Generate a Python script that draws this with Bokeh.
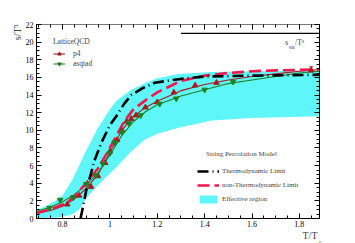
import math
from bokeh.plotting import figure
from bokeh.models import (Range1d, SingleIntervalTicker, LinearAxis, Label, Legend, LegendItem,
                          ColumnDataSource, Whisker, TeeHead, CustomJSTickFormatter, Title)
from bokeh.embed import file_html
from bokeh.resources import INLINE

# ---------------- data ----------------
band_x = [0.69, 0.73, 0.775, 0.80, 0.84, 0.87, 0.90, 0.95, 1.00, 1.03, 1.09, 1.145, 1.20, 1.29, 1.43, 1.60, 1.885]
band_upper = [1.0, 1.4, 2.1, 2.6, 4.3, 6.0, 7.7, 10.3, 12.4, 13.4, 14.6, 15.3, 15.9, 16.4, 16.6, 16.7, 16.8]
band_lower = [0.05, 0.08, 0.12, 0.2, 0.45, 1.0, 2.3, 3.8, 5.1, 5.9, 7.6, 8.9, 9.6, 10.3, 11.1, 11.4, 11.6]

thermo_x = [0.876, 0.89, 0.90, 0.92, 0.935, 0.964, 1.0, 1.027, 1.06, 1.09, 1.14, 1.19, 1.29, 1.40, 1.60, 1.885]
thermo_y = [0.0, 1.8, 3.2, 5.1, 6.6, 8.6, 10.6, 11.6, 13.0, 14.0, 14.8, 15.4, 15.8, 16.1, 16.2, 16.3]

nonthermo_x = [0.69, 0.73, 0.775, 0.82, 0.86, 0.90, 0.95, 0.985, 1.02, 1.06, 1.10, 1.15, 1.20, 1.30, 1.40, 1.50, 1.60, 1.70, 1.885]
nonthermo_y = [0.6, 0.9, 1.3, 1.8, 2.8, 4.0, 5.7, 7.3, 9.0, 11.0, 12.4, 13.4, 14.3, 15.6, 16.2, 16.5, 16.7, 16.8, 16.9]

p4fit_x = [0.69, 0.75, 0.80, 0.85, 0.90, 0.95, 1.00, 1.05, 1.10, 1.15, 1.20, 1.30, 1.40, 1.50, 1.60, 1.70, 1.80, 1.885]
p4fit_y = [0.6, 0.9, 1.4, 2.2, 3.4, 5.0, 7.5, 10.0, 11.6, 12.6, 13.3, 14.5, 15.2, 15.7, 16.1, 16.4, 16.7, 16.9]

asqfit_x = [0.69, 0.75, 0.80, 0.85, 0.90, 0.95, 1.00, 1.05, 1.10, 1.15, 1.20, 1.30, 1.40, 1.50, 1.60, 1.70, 1.80, 1.885]
asqfit_y = [0.8, 1.3, 1.9, 2.7, 3.8, 5.2, 7.2, 9.4, 11.0, 12.1, 12.9, 13.9, 14.6, 15.3, 15.7, 16.1, 16.5, 16.7]

p4_x = [0.82, 0.87, 0.92, 0.95, 0.98, 1.00, 1.03, 1.05, 1.07, 1.09, 1.11, 1.15, 1.20, 1.27, 1.36, 1.45, 1.85]
p4_y = [1.6, 2.6, 3.6, 4.8, 6.3, 7.6, 8.9, 10.0, 11.0, 11.3, 11.7, 12.6, 13.2, 14.3, 15.1, 15.4, 16.8]
p4_err = [0.3, 0.3, 0.4, 0.5, 0.5, 0.5, 0.5, 0.5, 0.5, 0.5, 0.5, 0.5, 0.5, 0.4, 0.4, 0.4, 0.4]

asq_x = [0.745, 0.79, 0.845, 0.90, 0.94, 0.97, 1.00, 1.02, 1.05, 1.08, 1.13, 1.21, 1.28, 1.40, 1.52]
asq_y = [1.2, 2.1, 2.4, 3.9, 4.9, 6.2, 7.4, 8.6, 9.8, 10.8, 11.7, 13.0, 13.6, 14.6, 15.5]
asq_err = [0.2, 0.2, 0.2, 0.25, 0.25, 0.3, 0.3, 0.3, 0.3, 0.3, 0.3, 0.3, 0.3, 0.3, 0.3]

sb_x = [1.30, 1.90]
sb_y = [21.0, 21.0]

# ---------------- styles ----------------
SERIF = "Liberation Serif"
CYAN = "#5ef6f8"
RED = "#f5174b"
BROWN = "#a81c1c"
GREEN = "#1f7f1f"

p = figure(width=355, height=243, output_backend="svg", toolbar_location=None, title=None,
           x_range=Range1d(0.69, 1.885), y_range=Range1d(0, 22),
           min_border_left=36, min_border_right=36, min_border_top=24, min_border_bottom=25)
p.background_fill_color = "white"
p.border_fill_color = "white"
p.outline_line_color = "black"
p.grid.visible = False

xt = SingleIntervalTicker(interval=0.2, num_minor_ticks=4)
yt = SingleIntervalTicker(interval=2, num_minor_ticks=4)
p.xaxis.ticker = xt
p.yaxis.ticker = yt

def style_axis(ax, labels=True):
    ax.major_tick_in = 5
    ax.major_tick_out = 0
    ax.minor_tick_in = 3
    ax.minor_tick_out = 0
    ax.axis_line_color = "black"
    ax.major_tick_line_color = "black"
    ax.minor_tick_line_color = "black"
    ax.major_label_text_font = SERIF
    ax.major_label_text_font_size = "8px"
    ax.major_label_text_color = "black"
    ax.major_label_standoff = 3
    if not labels:
        ax.formatter = CustomJSTickFormatter(code="return ''")
        ax.major_label_standoff = 0

style_axis(p.xaxis[0])
style_axis(p.yaxis[0])
p.xaxis[0].major_label_standoff = 2
top = LinearAxis(ticker=xt)
right = LinearAxis(ticker=yt)
style_axis(top, labels=False)
style_axis(right, labels=False)
top.axis_line_color = "#777777"
p.add_layout(top, "above")
p.add_layout(right, "right")

# band
band = p.varea(x=band_x, y1=band_lower, y2=band_upper, fill_color=CYAN, fill_alpha=1.0)

# fits and model curves
p4line = p.line(p4fit_x, p4fit_y, line_color=BROWN, line_width=1.1)
asqline = p.line(asqfit_x, asqfit_y, line_color=GREEN, line_width=1.1)
nonth = p.line(nonthermo_x, nonthermo_y, line_color=RED, line_width=2.6, line_dash="12 5")
th = p.line(thermo_x, thermo_y, line_color="black", line_width=2.6, line_dash="11 4 1 4")

# data with error bars
p4_src = ColumnDataSource(dict(x=p4_x, y=p4_y,
                               lo=[a - b for a, b in zip(p4_y, p4_err)],
                               hi=[a + b for a, b in zip(p4_y, p4_err)]))
asq_src = ColumnDataSource(dict(x=asq_x, y=asq_y,
                                lo=[a - b for a, b in zip(asq_y, asq_err)],
                                hi=[a + b for a, b in zip(asq_y, asq_err)]))
p.add_layout(Whisker(source=p4_src, base="x", lower="lo", upper="hi", line_color=BROWN, line_width=1,
                     upper_head=TeeHead(size=4, line_color=BROWN), lower_head=TeeHead(size=4, line_color=BROWN)))
p.add_layout(Whisker(source=asq_src, base="x", lower="lo", upper="hi", line_color=GREEN, line_width=1,
                     upper_head=TeeHead(size=4, line_color=GREEN), lower_head=TeeHead(size=4, line_color=GREEN)))
p4sc = p.scatter("x", "y", source=p4_src, marker="triangle", size=5.5, fill_color=BROWN, line_color=BROWN)
asqsc = p.scatter("x", "y", source=asq_src, marker="inverted_triangle", size=5.5, fill_color=GREEN, line_color=GREEN)

# SB limit
p.line(sb_x, sb_y, line_color="black", line_width=1.2)

# legends
leg1 = Legend(items=[LegendItem(label="p4", renderers=[p4line, p4sc]),
                     LegendItem(label="asqtad", renderers=[asqline, asqsc])],
              title="LatticeQCD", location=(17, 150))
leg2 = Legend(items=[LegendItem(label="Thermodynamic Limit", renderers=[th]),
                     LegendItem(label="non-Thermodynamic Limit", renderers=[nonth]),
                     LegendItem(label="Effective region", renderers=[band])],
              location=(161, 14))
for lg in (leg1, leg2):
    lg.background_fill_alpha = 0
    lg.border_line_color = None
    lg.label_text_font = SERIF
    lg.label_text_font_size = "7px"
    lg.title_text_font = SERIF
    lg.title_text_font_size = "7px"
    lg.title_text_font_style = "normal"
    lg.padding = 2
    lg.margin = 0
leg1.glyph_width = 12
leg1.glyph_height = 9
leg1.label_height = 9
leg1.spacing = 1
leg1.label_standoff = 8
leg1.title_standoff = 3
leg1.label_text_font_size = "7.5px"
leg1.title_text_font_size = "7.5px"
leg2.glyph_width = 22
leg2.glyph_height = 10
leg2.label_height = 10
leg2.spacing = 4
leg2.label_standoff = 3
p.add_layout(leg1)
p.add_layout(leg2)

# title of the model legend
p.add_layout(Label(x=1.406, y=7.28, text="String Percolation Model", text_font=SERIF,
                   text_font_size="7px", text_align="left", text_baseline="middle"))

# y axis title as a side title at the top end of the left side
p.add_layout(Title(text="s/T³", align="right", text_font=SERIF, text_font_size="10px",
                   text_font_style="normal", standoff=0, offset=0), "left")

# x axis title T/T_c as side titles at the right end of the bottom side
p.add_layout(Title(text="T/T", align="right", text_font=SERIF, text_font_size="10px",
                   text_font_style="normal", standoff=-3, offset=2), "below")
p.add_layout(Title(text="c", align="right", text_font=SERIF, text_font_size="6px",
                   text_font_style="normal", standoff=-6, offset=-2), "below")

# SB label
p.add_layout(Label(x=1.74, y=19.45, text="s", text_font=SERIF, text_font_size="7.5px",
                   text_align="left", text_baseline="bottom", text_color="#333333"))
p.add_layout(Label(x=1.755, y=19.1, text="SB", text_font=SERIF, text_font_size="5px",
                   text_align="left", text_baseline="bottom", text_color="#333333"))
p.add_layout(Label(x=1.782, y=19.45, text="/T³", text_font=SERIF, text_font_size="7.5px",
                   text_align="left", text_baseline="bottom", text_color="#333333"))

open("out.html", "w").write(file_html(p, INLINE))
